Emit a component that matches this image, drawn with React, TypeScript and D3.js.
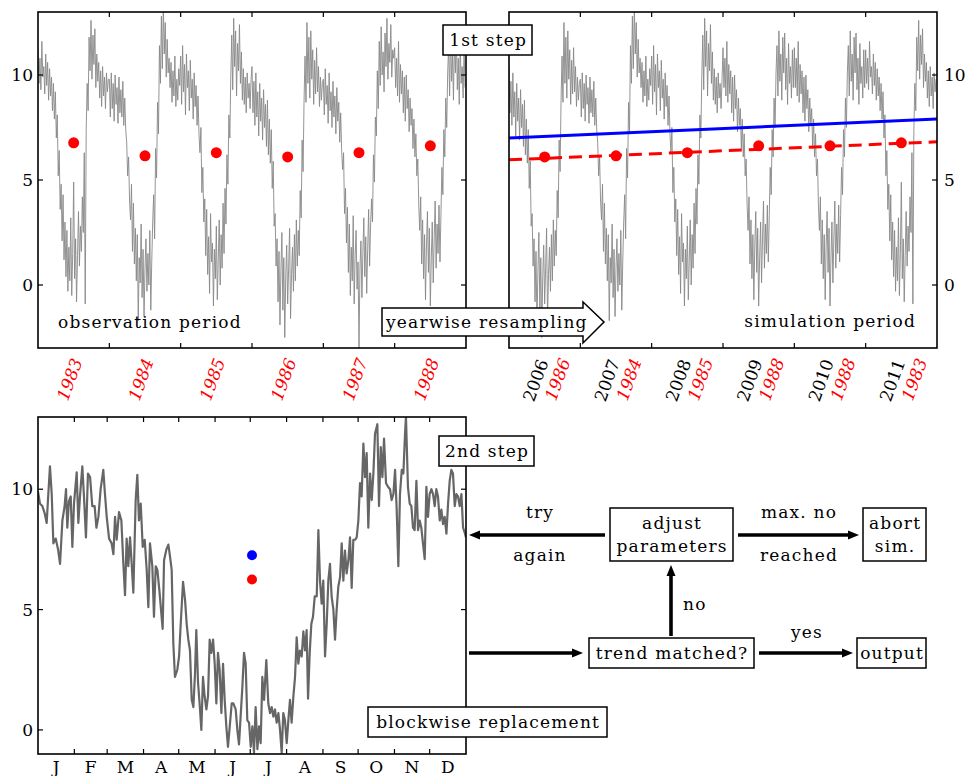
import * as d3 from 'd3'

// ---- data ----
const obsYears = [1983, 1984, 1985, 1986, 1987, 1988]
const simYears = [2006, 2007, 2008, 2009, 2010, 2011]
const resampledYears = [1986, 1984, 1985, 1988, 1988, 1983]

// 5-day values per observed year (high/low band of the daily series)
const y1983 = [11.2, 9.6, 10.8, 9.3, 11.6, 9.9, 10.4, 9.1, 11.0, 9.5, 10.6, 8.8, 10.3, 9.0, 9.9, 8.3, 9.6, 7.9, 9.2,
  7.0, 8.1, 5.2, 6.4, 3.6, 4.8,
  2.1, 4.3, 1.2, 3.0, 0.4, 2.6, -0.3, 1.8, 0.2, 3.2, -0.5, 1.5, 4.9, 0.3, 2.2, -0.8, 1.4, 3.5, 0.9, 2.8, 1.6,
  4.2, 2.5, 6.3, -0.9, 7.4, 9.6, 8.3,
  11.8, 10.2, 12.6, 9.8, 11.9, 10.5, 12.2, 9.4, 11.0, 9.7,
  10.6, 8.9, 10.2, 8.5, 10.4, 9.0, 9.9, 8.4, 10.1, 9.2, 9.8]
const y1984 = [9.8, 8.0, 10.1, 8.4, 9.6, 7.8, 10.0, 8.6, 9.4, 7.7, 9.9, 8.2, 9.3, 8.0, 9.7, 7.6, 8.9, 7.4,
  6.8, 5.2, 6.1, 4.0,
  3.1, 4.8, 1.6, 3.9, 1.0, 2.7,
  0.2, 2.4, -1.7, 1.3, 0.1, 2.9, -0.6, 1.7, -1.5, 0.8, 2.2, -0.3, 1.5, 0.0, 2.6, -1.2, 1.1, 3.0,
  4.3, 2.2, 6.5, 5.1, 8.7, 7.2,
  11.4, 9.6, 12.8, 10.3, 13.4, 11.0, 12.5, 9.9, 11.7, 10.1, 10.8,
  9.4, 10.6, 8.7, 10.2, 9.0, 10.9, 8.5, 9.8, 8.8, 10.3, 9.5]
const y1985 = [10.9, 8.6, 11.4, 9.2, 10.5, 8.1, 11.0, 9.4, 10.2, 8.3, 10.7, 8.9, 9.8, 7.9, 10.1, 8.5, 9.5, 7.6, 9.0, 7.2,
  6.3, 7.5, 4.4, 5.6,
  3.0, 4.1, 1.4, 3.6, 0.5, 2.3, -0.4, 3.4, 1.1, 2.0, -1.0, 1.7, 0.3, 2.8, -0.7, 1.2, 3.1, 0.0, 2.4, 0.8, 3.9, 1.5, 4.6, 2.9,
  6.2, 4.8, 8.1, 7.0, 9.9,
  11.9, 9.3, 12.7, 10.4, 12.1, 9.0, 11.5, 10.2, 12.4, 9.6, 11.1, 8.8,
  10.3, 8.6, 9.9, 8.2, 10.1, 8.9, 9.6, 8.4, 9.8]
const y1986 = [10.4, 8.2, 9.7, 7.6, 10.1, 8.0, 9.2, 7.1, 9.6, 7.8, 8.9, 6.9, 9.3, 7.5, 8.6, 6.6, 8.8, 6.2, 7.9, 5.8, 7.4,
  4.6, 5.9, 2.8,
  3.4, 0.9, 2.2, -0.8, 1.6, -1.9, 0.7, 2.5, -1.2, 1.3, -2.5, 0.4, 1.9, -0.9, 0.8, 2.7, -1.6, 0.5, 1.8, -0.3, 2.4, 0.2, 3.1, 0.9, 2.6, 1.4,
  4.5, 3.2, 6.9, 5.4, 8.8,
  10.9, 8.7, 12.5, 9.6, 11.8, 8.9, 12.1, 9.8, 11.2, 8.6, 10.7, 9.1, 11.3,
  9.2, 10.4, 8.5, 9.9, 8.8, 9.6]
const y1987 = [9.8, 8.1, 10.3, 8.6, 9.5, 7.7, 10.1, 8.3, 9.2, 7.5, 9.7, 8.0, 9.0, 7.2, 9.4, 7.8, 8.7, 6.8, 8.2, 6.4,
  5.5, 6.3, 3.4, 4.6,
  2.0, 3.7, 0.6, 2.9, -0.5, 1.8, 0.2, 3.3, -0.9, 1.4, 2.6, -0.2, 1.1, -3.0, 0.8, 2.1, -0.6, 1.5, 3.2, 0.4, 2.3, -0.4, 1.7, 3.6, 0.9, 2.8,
  4.1, 3.0, 6.2, 4.9, 8.0, 7.1,
  10.2, 8.4, 11.6, 9.5, 12.3, 10.0, 11.1, 9.2, 12.0, 10.4, 12.7, 9.8, 11.5, 10.6, 12.4, 9.9, 11.2, 10.8]
const y1988 = [11.3, 9.4, 10.8, 9.0, 11.6, 8.7, 10.5, 9.1, 10.2, 8.2, 9.9, 7.8, 10.0, 8.4, 9.3, 7.3, 8.9, 7.6, 8.4, 6.5, 7.9, 6.1, 7.2,
  5.2, 6.0, 3.8,
  2.6, 4.2, 1.0, 3.1, 0.3, 2.4, -0.7, 1.9, 3.5, 0.6, 2.7, -1.0, 1.3, 3.0, 0.1, 2.2, 4.0, 0.8, 2.9, 1.5, 3.8, 1.1, 3.3,
  5.6, 4.3, 7.4, 6.1, 8.9, 7.5, 10.1,
  11.4, 9.0, 12.1, 9.7, 11.0, 8.8, 11.8, 10.1, 12.0, 9.3, 10.8, 8.6, 11.5, 9.6, 10.4, 8.9, 11.2, 9.4]

const obsSeries: Record<number, number[]> = {
  1983: y1983, 1984: y1984, 1985: y1985, 1986: y1986, 1987: y1987, 1988: y1988,
}
const obsMeans = [6.77, 6.15, 6.3, 6.1, 6.3, 6.63]
const simTrend = [5.96, 6.82] // fitted trend of the resampled years
const targetTrend = [7.0, 7.9] // trend the simulation should follow

// the year that gets replaced block by block: [day of year, value]
const replYear: [number, number][] = [
  [0, 9.9], [1.7, 9.4], [3.7, 9.3], [5.7, 9.0], [7.4, 8.6], [8.8, 9.8], [10.2, 10.95], [11.7, 9.8], [13.1, 7.75], [15.1, 7.95],
  [17.1, 7.5], [18.8, 6.9], [20.8, 8.7], [22.7, 9.3], [23.9, 10.0], [25.0, 8.4], [26.4, 9.5], [27.9, 9.7], [29.3, 7.6], [30.7, 9.4],
  [33.0, 10.7], [34.4, 8.6], [35.8, 9.7], [37.8, 10.95], [39.2, 9.7], [40.9, 8.0], [42.6, 10.65], [44.4, 10.5], [46.3, 9.3], [48.3, 9.3],
  [49.8, 8.4], [51.5, 8.85], [53.4, 10.0], [55.7, 10.8], [57.1, 9.8], [58.6, 8.85], [60.6, 7.95], [62.8, 7.75], [64.3, 7.3], [65.7, 8.85],
  [67.1, 7.9], [69.1, 9.05], [71.1, 8.7], [72.8, 6.9], [74.2, 5.6], [75.6, 7.95], [77.0, 6.8], [78.5, 8.0], [79.9, 6.9], [81.3, 5.7],
  [83.3, 9.55], [84.7, 10.6], [86.1, 8.7], [87.6, 9.4], [89.3, 7.6], [91.0, 7.9], [92.7, 6.65], [94.1, 5.1], [95.5, 7.75], [97.5, 6.8],
  [98.9, 4.7], [100.4, 6.8], [101.8, 6.65], [103.5, 5.8], [104.9, 5.0], [106.3, 4.2], [107.5, 7.05], [109.5, 7.5], [111.2, 7.7], [112.6, 7.2],
  [114.0, 6.65], [115.4, 3.6], [116.8, 2.2], [118.8, 2.5], [120.3, 3.05], [121.7, 4.4], [123.7, 6.15], [125.4, 5.4], [126.8, 4.4], [128.2, 3.75],
  [129.6, 3.3], [131.1, 1.25], [132.5, 0.95], [133.9, 2.35], [135.0, 4.15], [136.5, 1.95], [137.9, 1.05], [139.3, 0], [140.7, 2.2], [142.1, 1.4],
  [143.6, 0.85], [145.0, 1.4], [146.4, 3.75], [147.8, 3.2], [149.3, 3.75], [150.7, 2.75], [152.1, 1.1], [153.5, 3.2], [154.9, 2.5], [156.4, 0.7],
  [157.8, 2.75], [159.2, 1.25], [160.6, 0.15], [162.0, -0.7], [163.8, 0.3], [165.2, 1.1], [166.6, 1.1], [168.6, 0.85], [170.0, 0], [171.4, -0.6],
  [172.8, 0.55], [174.3, 1.8], [175.7, 3.2], [177.1, 2.75], [178.5, 0.4], [180.0, 0.3], [181.4, -0.7], [182.8, 0.15], [184.2, -0.95], [185.6, 0.95],
  [187.1, -0.8], [188.5, 0.15], [189.9, -0.55], [191.3, 2.2], [192.8, 1.25], [194.7, 2.9], [196.4, 1.1], [197.9, 0.7], [199.3, 0.95], [200.7, 0.55],
  [202.1, 0.85], [203.5, 0.3], [205.0, 0.7], [206.4, 0], [207.8, -0.95], [209.2, 0.7], [210.6, 0.4], [212.1, -0.55], [213.5, 0.4], [214.9, 1.25],
  [216.3, 0.3], [217.8, 1.4], [219.2, 2.2], [220.6, 3.85], [222.0, 2.75], [223.4, 3.3], [224.9, 3.05], [226.3, 4.1], [227.7, 3.3], [229.1, 4.15],
  [230.3, 1.3], [231.7, 3.2], [233.1, 4.4], [234.5, 4.7], [236.0, 5.55], [237.7, 5.55], [239.1, 8.3], [240.5, 6.2], [241.9, 5.25], [243.3, 6.2],
  [244.8, 3.05], [246.2, 4.4], [247.6, 6.2], [249.0, 6.9], [250.4, 5.55], [251.9, 5.0], [253.3, 3.75], [254.7, 5.0], [256.1, 5.95], [257.6, 6.35],
  [259.0, 7.75], [260.4, 6.2], [261.8, 7.45], [263.2, 6.5], [264.7, 7.05], [266.1, 8.0], [267.5, 5.9], [268.9, 7.9], [270.4, 7.9], [271.8, 8.0],
  [273.2, 8.7], [274.6, 10.25], [276.0, 9.7], [277.5, 11.9], [278.9, 10.5], [280.3, 11.5], [281.7, 8.4], [283.2, 10.65], [284.6, 9.55], [286.0, 10.65],
  [287.4, 12.3], [289.4, 12.7], [290.8, 9.3], [292.3, 11.75], [293.7, 10.5], [295.1, 12.1], [296.8, 10.25], [298.5, 10.1], [300.2, 10.0], [301.6, 9.55],
  [303.1, 9.8], [304.5, 10.8], [305.9, 9.15], [307.3, 6.8], [308.7, 9.8], [310.2, 10.8], [311.6, 10.65], [313.0, 12.3], [313.8, 13.0], [315.5, 10.1],
  [317.0, 9.4], [318.4, 9.3], [319.8, 8.4], [321.2, 8.3], [322.7, 10.35], [324.1, 8.3], [325.5, 8.7], [326.9, 8.4], [328.3, 7.75], [329.8, 7.1],
  [331.2, 10.1], [332.6, 8.85], [334.0, 9.8], [335.5, 10.0], [336.9, 9.8], [338.3, 9.3], [339.7, 10.0], [341.1, 9.7], [342.6, 8.7], [344.0, 9.15],
  [345.4, 8.55], [346.8, 8.85], [348.3, 8.15], [349.7, 9.4], [351.1, 10.35], [352.5, 10.8], [353.9, 10.65], [355.4, 9.3], [356.8, 9.8], [358.2, 9.7],
  [359.6, 9.3], [361.1, 9.8], [362.5, 8.4], [363.9, 8.2], [365, 8.0],
]
const replacedMean = 6.25
const targetMean = 7.26

const monthStarts = [0, 31, 59, 90, 120, 151, 181, 212, 243, 273, 304, 334, 365]
const monthLabels = ['J', 'F', 'M', 'A', 'M', 'J', 'J', 'A', 'S', 'O', 'N', 'D']
const valueTicks = [0, 5, 10]

// ---- layout ----
const FONT = '"DejaVu Serif", "Liberation Serif", serif'
const FS = 17
const LS = 1.2
const TOP = { y0: 12, y1: 348 }
const OBS = { x0: 38, x1: 466 }
const SIM = { x0: 509, x1: 937 }
const BOT = { x0: 38, x1: 466, y0: 417, y1: 754 }

const topY = d3.scaleLinear().domain([-3, 13]).range([TOP.y1, TOP.y0])
const obsX = d3.scaleLinear().domain([1983, 1989]).range([OBS.x0, OBS.x1])
const simX = d3.scaleLinear().domain([2006, 2012]).range([SIM.x0, SIM.x1])
const botX = d3.scaleLinear().domain([0, 365]).range([BOT.x0, BOT.x1])
const botY = d3.scaleLinear().domain([-1, 13]).range([BOT.y1, BOT.y0])

function yearPoints(start: number, vals: number[]): [number, number][] {
  return vals.map((v, i) => [start + i / vals.length, v])
}

const obsPoints = obsYears.flatMap((y) => yearPoints(y, obsSeries[y]))
const simPoints = simYears.flatMap((y, k) => yearPoints(y, obsSeries[resampledYears[k]]))
const simMeans = resampledYears.map((y) => obsMeans[obsYears.indexOf(y)])

function Frame({ x0, x1, y0, y1, xTicks, yTicks, left = true, right = true }: {
  x0: number; x1: number; y0: number; y1: number; xTicks: number[]; yTicks: number[]; left?: boolean; right?: boolean
}) {
  const t = 5
  return (
    <g stroke="#000" strokeWidth={1.2}>
      {xTicks.map((x, i) => (
        <g key={'x' + i}>
          <line x1={x} x2={x} y1={y0} y2={y0 + t} />
          <line x1={x} x2={x} y1={y1 - t} y2={y1} />
        </g>
      ))}
      {yTicks.map((y, i) => (
        <g key={'y' + i}>
          {left && <line x1={x0} x2={x0 + t} y1={y} y2={y} />}
          {right && <line x1={x1 - t} x2={x1} y1={y} y2={y} />}
        </g>
      ))}
      <rect x={x0} y={y0} width={x1 - x0} height={y1 - y0} fill="none" strokeWidth={1.6} />
    </g>
  )
}

function Box({ x0, y0, x1, y1, lines, lineGap = 23 }: { x0: number; y0: number; x1: number; y1: number; lines: string[]; lineGap?: number }) {
  const cx = (x0 + x1) / 2
  const cy = (y0 + y1) / 2
  const first = cy + 6 - ((lines.length - 1) * lineGap) / 2
  return (
    <g>
      <rect x={x0} y={y0} width={x1 - x0} height={y1 - y0} fill="#fff" stroke="#000" strokeWidth={1.5} />
      {lines.map((s, i) => (
        <text key={i} x={cx + LS / 2} y={first + i * lineGap} textAnchor="middle" letterSpacing={LS}>{s}</text>
      ))}
    </g>
  )
}

function Arrow({ x1, y1, x2, y2 }: { x1: number; y1: number; x2: number; y2: number }) {
  const len = Math.hypot(x2 - x1, y2 - y1)
  const ux = (x2 - x1) / len
  const uy = (y2 - y1) / len
  const hl = 11
  const hw = 4.5
  const bx = x2 - ux * hl
  const by = y2 - uy * hl
  return (
    <g>
      <line x1={x1} y1={y1} x2={bx + ux * 1} y2={by + uy * 1} stroke="#000" strokeWidth={3.6} />
      <path d={`M${x2},${y2}L${bx - uy * hw},${by + ux * hw}L${bx + uy * hw},${by - ux * hw}Z`} fill="#000" />
    </g>
  )
}

export default function App() {
  const obsLine = d3.line<[number, number]>().x((d) => obsX(d[0])).y((d) => topY(d[1]))
  const simLine = d3.line<[number, number]>().x((d) => simX(d[0])).y((d) => topY(d[1]))
  const botLine = d3.line<[number, number]>().x((d) => botX(d[0])).y((d) => botY(d[1]))
  const yearTicksObs = obsYears.slice(1).map((y) => obsX(y))
  const yearTicksSim = simYears.slice(1).map((y) => simX(y))
  const topYTicks = valueTicks.map((v) => topY(v))
  const botYTicks = valueTicks.map((v) => botY(v))

  return (
    <svg width={968} height={776} style={{ position: 'absolute', left: 0, top: 0, background: '#fff' }}
      fontFamily={FONT} fontSize={FS}>
      <defs>
        <clipPath id="clipObs"><rect x={OBS.x0} y={TOP.y0} width={OBS.x1 - OBS.x0} height={TOP.y1 - TOP.y0} /></clipPath>
        <clipPath id="clipSim"><rect x={SIM.x0} y={TOP.y0} width={SIM.x1 - SIM.x0} height={TOP.y1 - TOP.y0} /></clipPath>
        <clipPath id="clipBot"><rect x={BOT.x0} y={BOT.y0} width={BOT.x1 - BOT.x0} height={BOT.y1 - BOT.y0} /></clipPath>
      </defs>

      {/* observation period */}
      <g clipPath="url(#clipObs)">
        <path d={obsLine(obsPoints) ?? ''} fill="none" stroke="#888" strokeWidth={0.9} />
      </g>
      {obsYears.map((y, i) => (
        <circle key={y} cx={obsX(y + 0.5)} cy={topY(obsMeans[i])} r={5.5} fill="#ff0000" />
      ))}
      <Frame x0={OBS.x0} x1={OBS.x1} y0={TOP.y0} y1={TOP.y1} xTicks={yearTicksObs} yTicks={topYTicks} />
      {valueTicks.map((v) => (
        <text key={v} x={33} y={topY(v) + 6} textAnchor="end">{v}</text>
      ))}
      {obsYears.map((y) => (
        <text key={y} transform={`translate(${obsX(y + 0.5) + 9},${TOP.y1 + 13}) rotate(-70)`} textAnchor="end"
          fill="#ff0000" fontStyle="italic">{y}</text>
      ))}
      <text x={58} y={328} letterSpacing={LS}>observation period</text>

      {/* simulation period */}
      <g clipPath="url(#clipSim)">
        <path d={simLine(simPoints) ?? ''} fill="none" stroke="#888" strokeWidth={0.9} />
        <line x1={simX(2006)} x2={simX(2012)} y1={topY(targetTrend[0])} y2={topY(targetTrend[1])} stroke="#0000ff" strokeWidth={3} />
        <line x1={simX(2006)} x2={simX(2012)} y1={topY(simTrend[0])} y2={topY(simTrend[1])} stroke="#ff0000" strokeWidth={3}
          strokeDasharray="13,7" />
      </g>
      {simYears.map((y, i) => (
        <circle key={y} cx={simX(y + 0.5)} cy={topY(simMeans[i])} r={5.5} fill="#ff0000" />
      ))}
      <Frame x0={SIM.x0} x1={SIM.x1} y0={TOP.y0} y1={TOP.y1} xTicks={yearTicksSim} yTicks={topYTicks} left={false} />
      {valueTicks.map((v) => (
        <text key={v} x={944} y={topY(v) + 6}>{v}</text>
      ))}
      {simYears.map((y, i) => (
        <g key={y}>
          <text transform={`translate(${simX(y + 0.5) + 4},${TOP.y1 + 14}) rotate(-70)`} textAnchor="end">{y}</text>
          <text transform={`translate(${simX(y + 0.5) + 26},${TOP.y1 + 13}) rotate(-70)`} textAnchor="end"
            fill="#ff0000" fontStyle="italic">{resampledYears[i]}</text>
        </g>
      ))}
      <text x={916} y={327} textAnchor="end" letterSpacing={LS}>simulation period</text>

      <Box x0={443} y0={25} x1={532} y1={55} lines={['1st step']} />
      <path d="M382,308L583,308L583,302L604,322L583,343L583,336L382,336Z" fill="#fff" stroke="#000" strokeWidth={1.5} />
      <text x={386} y={328} letterSpacing={LS}>yearwise resampling</text>

      {/* replaced year */}
      <g clipPath="url(#clipBot)">
        <path d={botLine(replYear) ?? ''} fill="none" stroke="#666" strokeWidth={2.2} strokeLinejoin="round" />
      </g>
      <circle cx={botX(182.5)} cy={botY(targetMean)} r={5} fill="#0000ff" />
      <circle cx={botX(182.5)} cy={botY(replacedMean)} r={5} fill="#ff0000" />
      <Frame x0={BOT.x0} x1={BOT.x1} y0={BOT.y0} y1={BOT.y1}
        xTicks={monthStarts.slice(1, -1).map((d) => botX(d))} yTicks={botYTicks} />
      {valueTicks.map((v) => (
        <text key={v} x={33} y={botY(v) + 6} textAnchor="end">{v}</text>
      ))}
      {monthLabels.map((m, i) => (
        <text key={i} x={botX((monthStarts[i] + monthStarts[i + 1]) / 2)} y={773} textAnchor="middle">{m}</text>
      ))}

      <Box x0={439} y0={436} x1={534} y1={466} lines={['2nd step']} />
      <Box x0={368} y0={707} x1={607} y1={737} lines={['blockwise replacement']} />

      {/* adjustment loop */}
      <Arrow x1={605} y1={535} x2={469} y2={535} />
      <Arrow x1={738} y1={535} x2={859} y2={535} />
      <Arrow x1={671} y1={636} x2={671} y2={565} />
      <Arrow x1={469} y1={653} x2={583} y2={653} />
      <Arrow x1={759} y1={653} x2={853} y2={653} />
      <Box x0={610} y0={508} x1={733} y1={561} lines={['adjust', 'parameters']} />
      <Box x0={863} y0={508} x1={926} y1={561} lines={['abort', 'sim.']} />
      <Box x0={589} y0={638} x1={754} y1={668} lines={['trend matched?']} />
      <Box x0={857} y0={638} x1={926} y1={668} lines={['output']} />
      <g letterSpacing={LS} textAnchor="middle">
        <text x={540} y={518}>try</text>
        <text x={540} y={561}>again</text>
        <text x={799} y={518}>max. no</text>
        <text x={799} y={561}>reached</text>
        <text x={807} y={638}>yes</text>
      </g>
      <text x={683} y={610} letterSpacing={LS}>no</text>
    </svg>
  )
}
